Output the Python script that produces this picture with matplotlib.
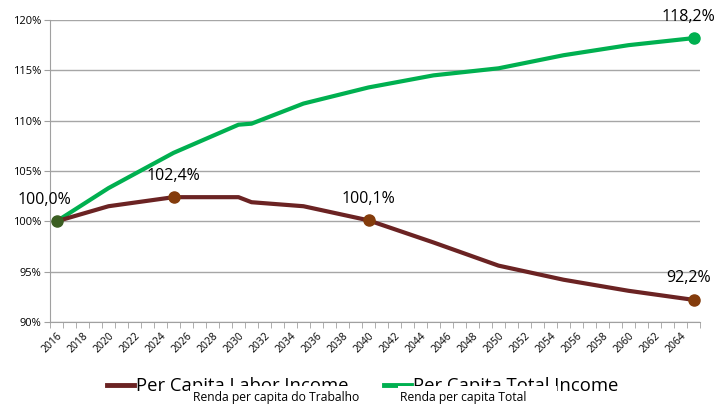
import numpy as np
import matplotlib
matplotlib.use("Agg")
import matplotlib.pyplot as plt
from matplotlib.lines import Line2D
from matplotlib.patches import Rectangle

# key years (lines are straight between them)
labor_years = [2016, 2020, 2025, 2030, 2031, 2035, 2040, 2045, 2050, 2055, 2060, 2065]
labor_vals = [100.0, 101.5, 102.4, 102.4, 101.9, 101.5, 100.1, 97.9, 95.6, 94.2, 93.1, 92.2]

total_years = [2016, 2020, 2025, 2030, 2031, 2035, 2040, 2045, 2050, 2055, 2060, 2065]
total_vals = [100.0, 103.3, 106.8, 109.6, 109.7, 111.7, 113.3, 114.5, 115.2, 116.5, 117.5, 118.2]

# labelled points
labor_marks = [2025, 2040, 2065]
total_marks = [2065]

brown = "#6b2323"
green = "#00b050"
mark_brown = "#843c0c"
start_green = "#3b5e22"

plt.rcParams['font.family'] = ['Open Sans', 'DejaVu Sans']

fig = plt.figure(figsize=(7.18, 4.04), dpi=100)
ax = fig.add_axes([50/718, 1-322/404, 650/718, 302/404])

ax.plot(total_years, total_vals, color=green, lw=3, solid_capstyle='round', zorder=3)
ax.plot(labor_years, labor_vals, color=brown, lw=3, solid_capstyle='round', zorder=4)

lab = dict(zip(labor_years, labor_vals))
tot = dict(zip(total_years, total_vals))
for yr in labor_marks:
    ax.plot(yr, lab[yr], 'o', color=mark_brown, ms=8, zorder=5)
for yr in total_marks:
    ax.plot(yr, tot[yr], 'o', color=green, ms=8, zorder=5)
ax.plot(2016, 100.0, 'o', color=start_green, ms=8, zorder=6)

def pct(v):
    return f"{v:.1f}%".replace('.', ',')

fs = 11.5
ax.text(2015.1, 100.0 + 1.3, pct(100.0), ha='center', va='bottom', fontsize=fs)
for yr in labor_marks[:2]:
    ax.text(yr, lab[yr] + 1.3, pct(lab[yr]), ha='center', va='bottom', fontsize=fs)
ax.text(2064.6, lab[2065] + 1.4, pct(lab[2065]), ha='center', va='bottom', fontsize=fs)
ax.text(2064.6, tot[2065] + 1.3, pct(tot[2065]), ha='center', va='bottom', fontsize=fs,
        clip_on=False)

ax.set_xlim(2015.5, 2065.5)
ax.set_ylim(90, 120)
yt = np.arange(90, 121, 5)
ax.set_yticks(yt)
ax.set_yticklabels([f"{v}%" for v in yt], fontsize=8)
years = np.arange(2016, 2066, 2)
ax.set_xticks(years)
ax.set_xticklabels([str(y) for y in years], rotation=45, ha='right', va='top',
                   rotation_mode='anchor', fontsize=7.5)
ax.set_xticks(np.arange(2015.5, 2066, 1), minor=True)
ax.tick_params(axis='x', which='major', length=0, pad=6)
ax.tick_params(axis='x', which='minor', length=4, color='#a0a0a0')
ax.tick_params(axis='y', length=4, color='#a0a0a0', pad=2)

ax.grid(axis='y', color='#a6a6a6', lw=1)
ax.set_axisbelow(True)
for s in ['top', 'right']:
    ax.spines[s].set_visible(False)
ax.spines['left'].set_color('#a0a0a0')
ax.spines['bottom'].set_color('#a0a0a0')

handles = [Line2D([], [], color=brown, lw=3.5), Line2D([], [], color=green, lw=3.5)]
fig.legend(handles, ['Per Capita Labor Income', 'Per Capita Total Income'],
           loc='center', bbox_to_anchor=(0.505, 1-386/404), ncol=2, frameon=False,
           fontsize=13.3, handlelength=1.5, handletextpad=0.1, columnspacing=1.9)

# white boxes of the Portuguese captions hide the lower half of the legend text
for x0, x1 in [(190, 362), (398, 557)]:
    fig.patches.append(Rectangle((x0/718, 0), (x1-x0)/718, 18/404, transform=fig.transFigure,
                                 facecolor='white', edgecolor='none', zorder=6))

fig.text(193/718, 1-397/404, 'Renda per capita do Trabalho', fontsize=8.7, va='center', zorder=7)
fig.text(400/718, 1-397/404, 'Renda per capita Total', fontsize=8.7, va='center', zorder=7)

fig.savefig('out.png', dpi=100)
